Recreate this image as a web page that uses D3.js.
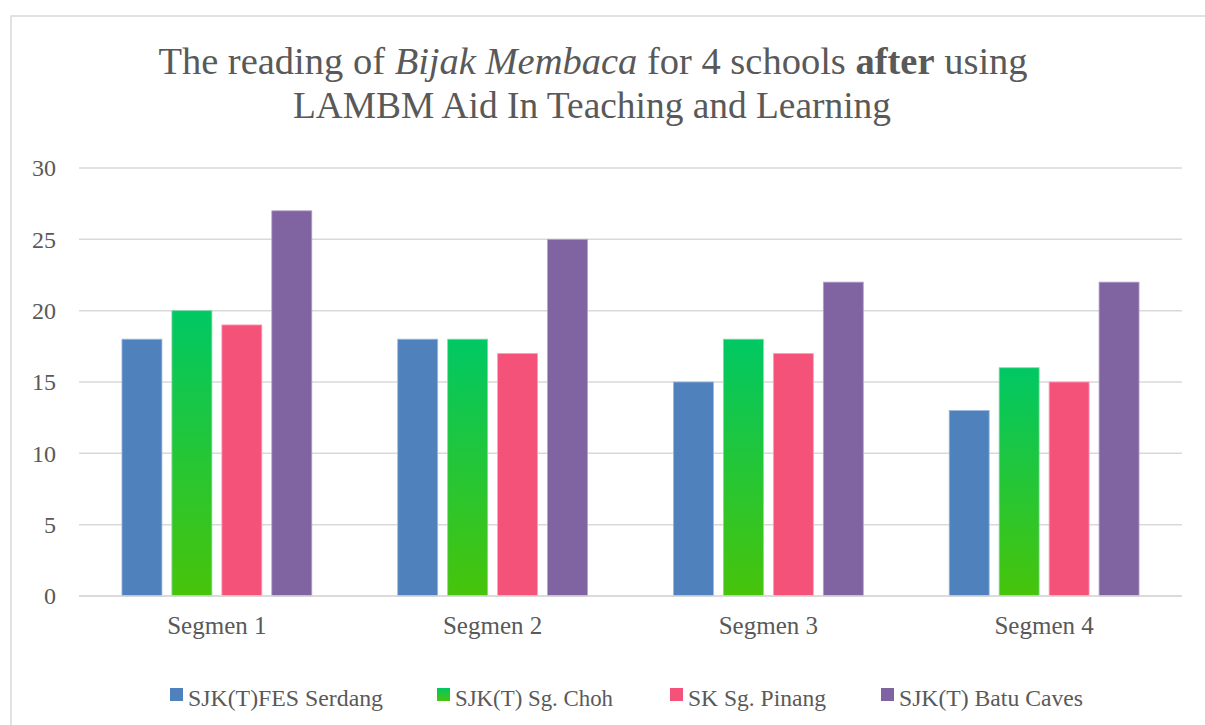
<!DOCTYPE html>
<html>
<head>
<meta charset="utf-8">
<script src="https://cdn.jsdelivr.net/npm/d3@7"></script>
<style>
  html, body { margin: 0; padding: 0; background: #fff; }
  svg text { font-family: "Liberation Serif", "DejaVu Serif", serif; fill: #595959; }
</style>
</head>
<body>
<svg id="chart" width="1205" height="725"></svg>
<script>
// data
const segments = ['Segmen 1', 'Segmen 2', 'Segmen 3', 'Segmen 4'];
const schools = ['SJK(T)FES Serdang', 'SJK(T) Sg. Choh', 'SK Sg. Pinang', 'SJK(T) Batu Caves'];
const fesSerdang = [18, 18, 15, 13];
const sgChoh = [20, 18, 18, 16];
const sgPinang = [19, 17, 17, 15];
const batuCaves = [27, 25, 22, 22];
const yTicks = [0, 5, 10, 15, 20, 25, 30];

const seriesVals = [fesSerdang, sgChoh, sgPinang, batuCaves];
const colors = ['#4F81BD', 'url(#greenGrad)', '#F5527A', '#8064A2'];
const edgeColors = ['#9DB6DA', '#7FD9A8', '#F9A3B9', '#B3A2C8'];

const svg = d3.select('#chart');
const margin = { left: 79, right: 23, top: 168, bottom: 129 };
const W = 1205, H = 725;

// gradient for the green series
const defs = svg.append('defs');
['greenGrad', 'greenGradL'].forEach(id => {
  const g = defs.append('linearGradient').attr('id', id)
    .attr('x1', 0).attr('y1', 0).attr('x2', 0).attr('y2', 1);
  g.append('stop').attr('offset', '0%').attr('stop-color', '#00C864');
  g.append('stop').attr('offset', '100%').attr('stop-color', '#48C40A');
});

// outer chart border
svg.append('rect')
  .attr('x', 11).attr('y', 16).attr('width', 1220).attr('height', 740)
  .attr('fill', 'none').attr('stroke', '#D9D9D9').attr('stroke-width', 1.5);

// title
const title = svg.append('text').attr('text-anchor', 'middle')
  .attr('x', 593).attr('y', 74).style('font-size', '38.5px');
title.append('tspan').text('The reading of ');
title.append('tspan').style('font-style', 'italic').text('Bijak Membaca');
title.append('tspan').text(' for 4 schools ');
title.append('tspan').style('font-weight', 'bold').text('after');
title.append('tspan').text(' using');
svg.append('text').attr('text-anchor', 'middle')
  .attr('x', 592).attr('y', 118).style('font-size', '38.5px')
  .attr('textLength', 598).attr('lengthAdjust', 'spacingAndGlyphs')
  .text('LAMBM Aid In Teaching and Learning');

const x0 = d3.scaleBand().domain(segments).range([margin.left, W - margin.right]);
const x1 = d3.scaleBand().domain(d3.range(schools.length)).range([0, x0.bandwidth()])
  .paddingInner(0.2).paddingOuter(0.86);
const y = d3.scaleLinear().domain([0, 30]).range([H - margin.bottom, margin.top]);

// gridlines
svg.append('g').selectAll('line').data(yTicks).join('line')
  .attr('x1', margin.left).attr('x2', W - margin.right)
  .attr('y1', d => y(d)).attr('y2', d => y(d))
  .attr('stroke', '#D9D9D9').attr('stroke-width', 1.5);

// y tick labels
svg.append('g').selectAll('text').data(yTicks).join('text')
  .attr('x', 56).attr('y', d => y(d)).attr('dy', '0.35em')
  .attr('text-anchor', 'end').style('font-size', '24px')
  .text(d => d);

// bars
const groups = svg.append('g').selectAll('g').data(segments).join('g')
  .attr('transform', d => `translate(${x0(d)},0)`);
groups.selectAll('rect').data((d, i) => seriesVals.map((s, k) => ({ k, v: s[i] }))).join('rect')
  .attr('x', d => x1(d.k)).attr('width', x1.bandwidth())
  .attr('y', d => y(d.v)).attr('height', d => y(0) - y(d.v))
  .attr('fill', d => colors[d.k])
  .attr('stroke', d => edgeColors[d.k]).attr('stroke-width', 0.8);

// redraw baseline over bars
svg.append('line').attr('x1', margin.left).attr('x2', W - margin.right)
  .attr('y1', y(0)).attr('y2', y(0)).attr('stroke', '#D9D9D9').attr('stroke-width', 1.5);

// category labels
svg.append('g').selectAll('text').data(segments).join('text')
  .attr('x', d => x0(d) + x0.bandwidth() / 2).attr('y', 634)
  .attr('text-anchor', 'middle').style('font-size', '25px')
  .text(d => d);

// legend
const legendX = [170, 437, 670, 881];
const legendW = [195, 158, 138, 184];
const legendColors = ['#4F81BD', 'url(#greenGradL)', '#F5527A', '#8064A2'];
const leg = svg.append('g').selectAll('g').data(schools).join('g')
  .attr('transform', (d, i) => `translate(${legendX[i]},688)`);
leg.append('rect').attr('width', 13).attr('height', 13).attr('y', 0)
  .attr('fill', (d, i) => legendColors[i]);
leg.append('text').attr('x', 18).attr('y', 18).style('font-size', '23.5px')
  .attr('textLength', (d, i) => legendW[i]).attr('lengthAdjust', 'spacingAndGlyphs')
  .text(d => d);
</script>
</body>
</html>
